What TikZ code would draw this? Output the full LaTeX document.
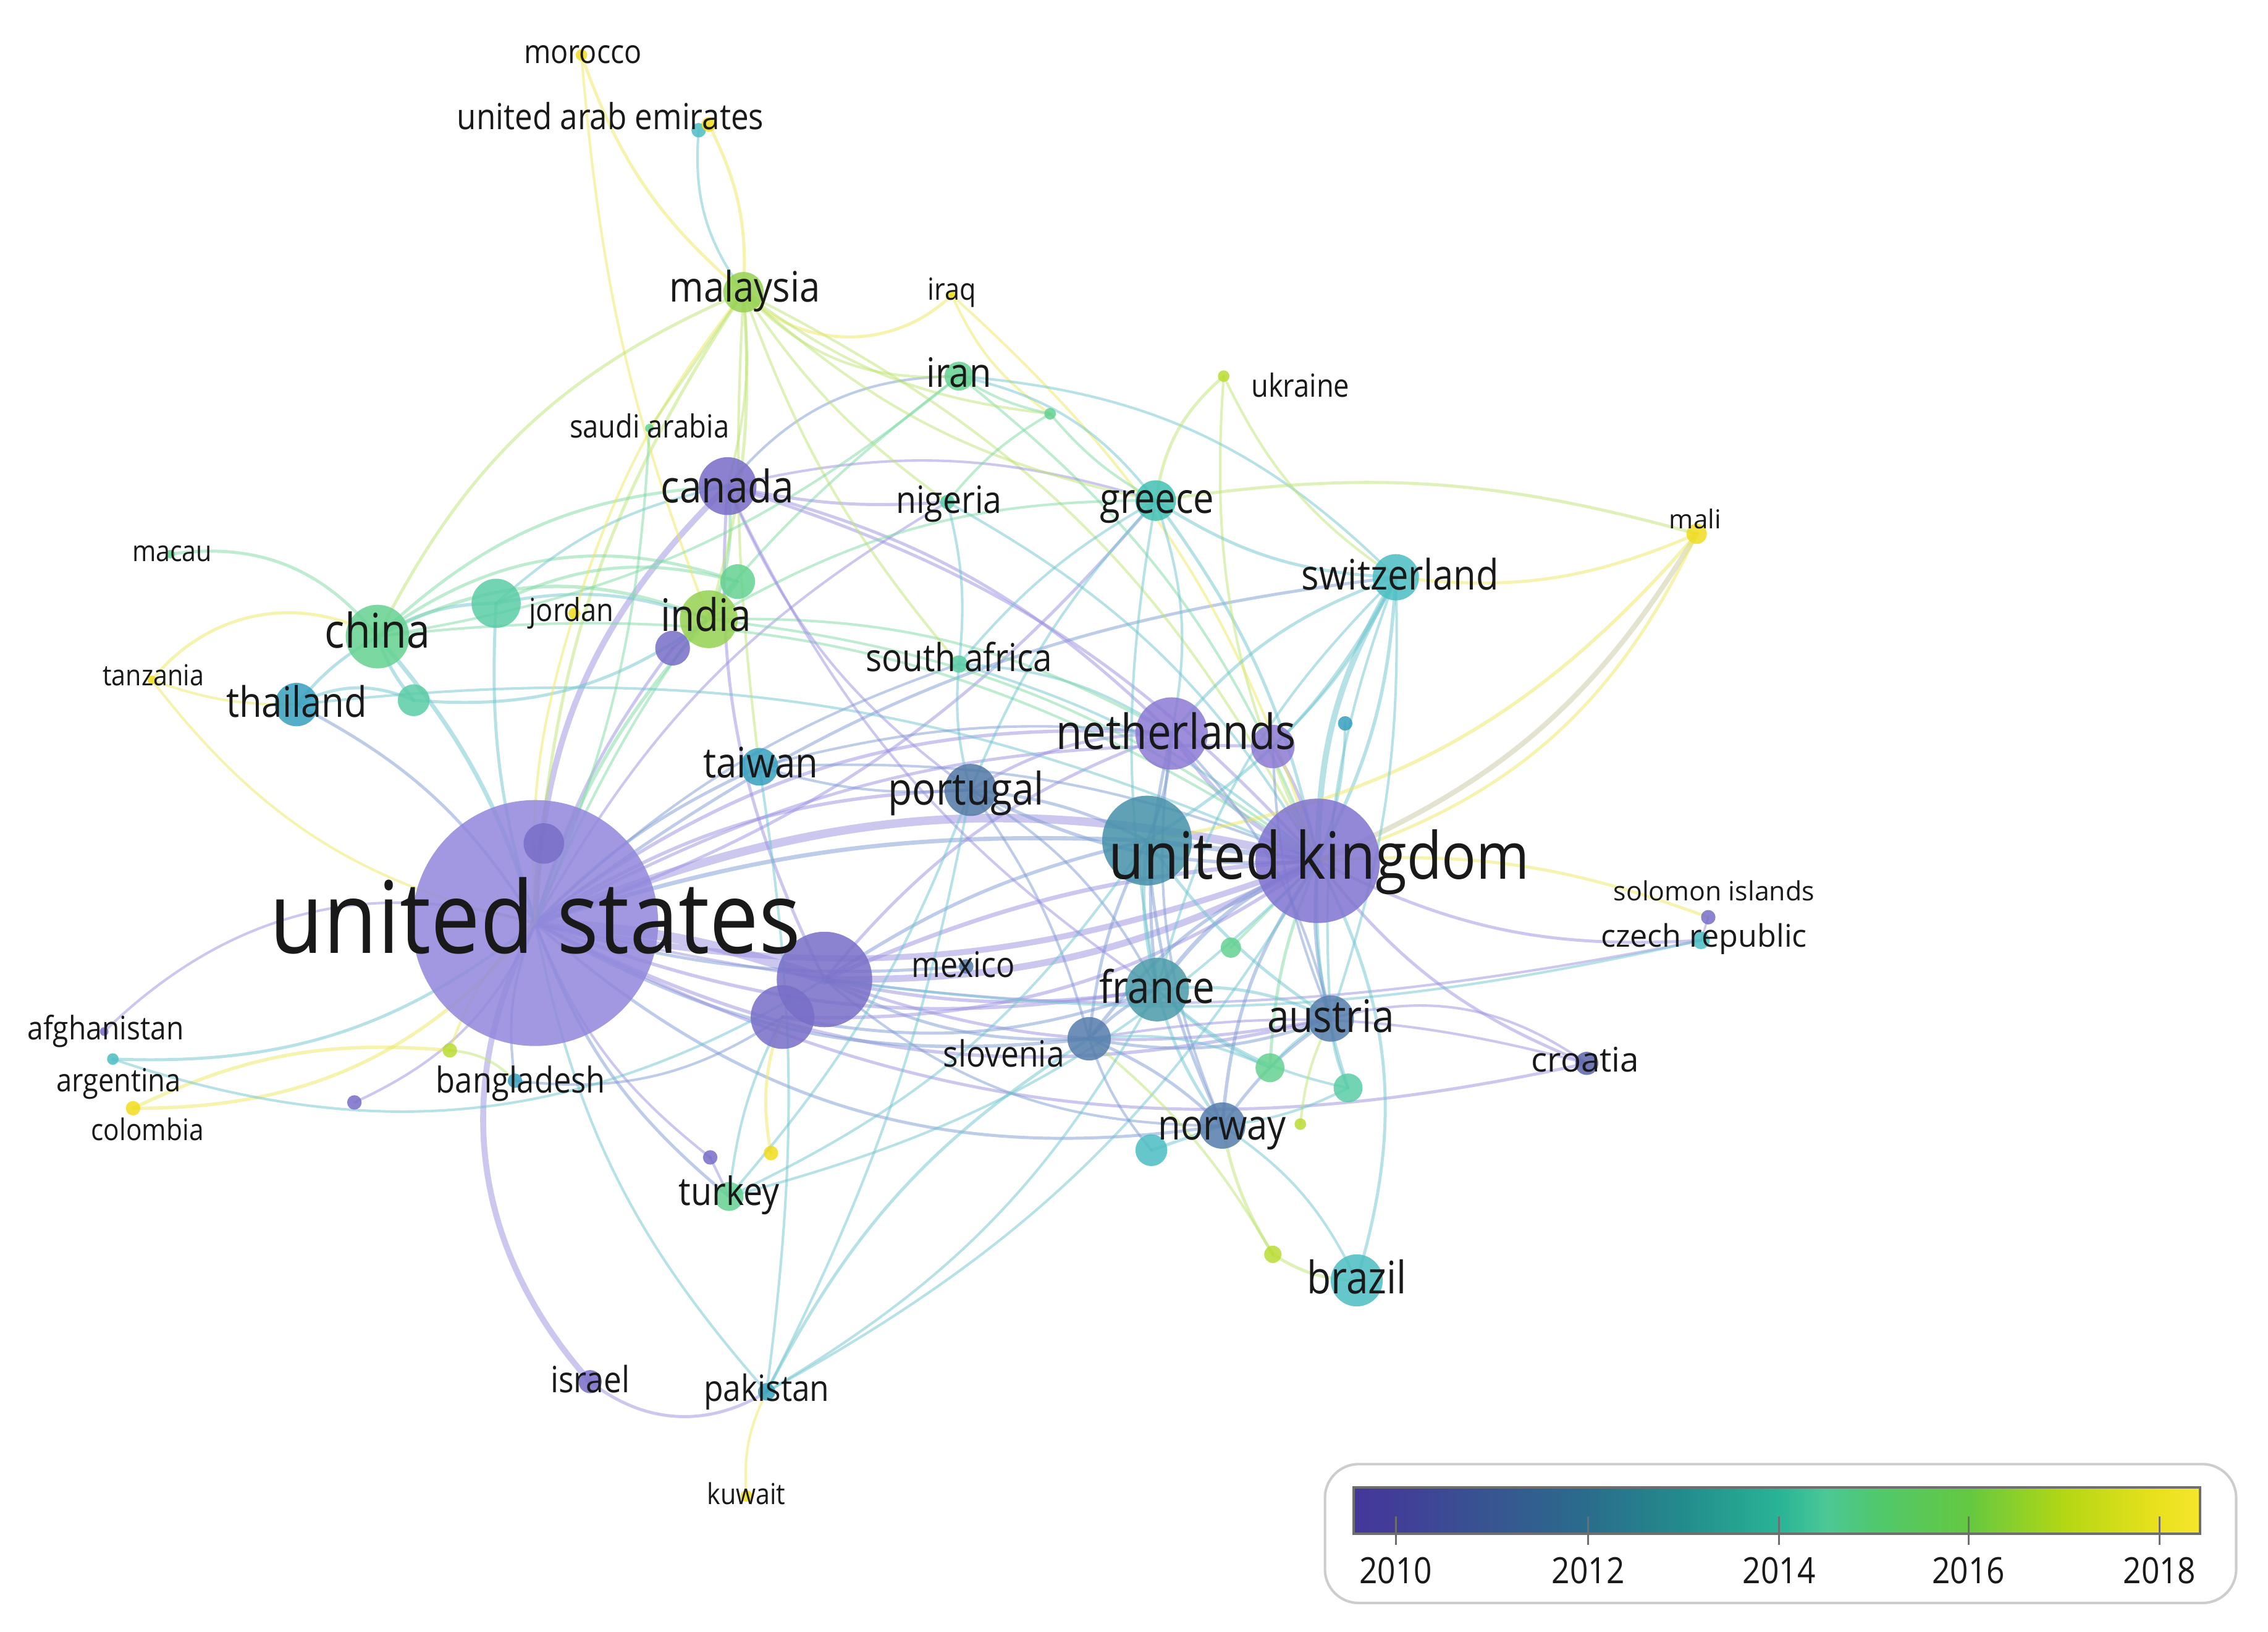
\documentclass[tikz,border=0pt]{standalone}
\usepackage{fontspec}
\newfontfamily\cond{Open Sans}[FakeStretch=0.88]
\newfontfamily\norm{Open Sans}
\newcommand\fsz[1]{\fontsize{\fpeval{#1*0.8536}pt}{\fpeval{#1*1.1}pt}\selectfont}
\pgfdeclarelayer{bg}
\pgfdeclarelayer{edges}
\pgfsetlayers{bg,edges,main}
\pgfdeclarehorizontalshading{viri}{100bp}{rgb(0bp)=(0.267,0.216,0.608); rgb(25bp)=(0.267,0.216,0.608); rgb(27.5bp)=(0.255,0.243,0.596); rgb(33.1bp)=(0.216,0.333,0.569); rgb(38.8bp)=(0.165,0.424,0.549); rgb(44.5bp)=(0.137,0.549,0.549); rgb(50.1bp)=(0.157,0.706,0.588); rgb(52.9bp)=(0.294,0.784,0.588); rgb(55.8bp)=(0.314,0.784,0.431); rgb(61.3bp)=(0.392,0.784,0.255); rgb(67bp)=(0.706,0.843,0.078); rgb(72.6bp)=(0.922,0.882,0.118); rgb(75bp)=(0.961,0.902,0.176); rgb(100bp)=(0.961,0.902,0.176)}
\definecolor{txt}{RGB}{25,25,25}
\definecolor{eP}{RGB}{155,145,225}
\definecolor{eB}{RGB}{125,155,210}
\definecolor{eT}{RGB}{110,198,208}
\definecolor{eG}{RGB}{125,218,165}
\definecolor{eL}{RGB}{190,228,115}
\definecolor{eY}{RGB}{238,232,95}
\definecolor{eM}{RGB}{200,200,160}
\definecolor{cUS}{RGB}{145,135,220}
\definecolor{cUK}{RGB}{128,116,208}
\definecolor{cCA}{RGB}{120,108,200}
\definecolor{cNL}{RGB}{140,122,212}
\definecolor{cPT}{RGB}{80,120,165}
\definecolor{cTL}{RGB}{70,145,170}
\definecolor{cFR}{RGB}{75,155,170}
\definecolor{cBL}{RGB}{85,125,172}
\definecolor{cHR}{RGB}{90,100,170}
\definecolor{cTQ}{RGB}{75,190,195}
\definecolor{cTH}{RGB}{55,160,190}
\definecolor{cGR}{RGB}{65,192,180}
\definecolor{cGN}{RGB}{100,210,145}
\definecolor{cYG}{RGB}{150,210,80}
\definecolor{cY}{RGB}{240,220,30}
\definecolor{cYL}{RGB}{185,220,50}
\definecolor{cPU}{RGB}{120,110,200}
\definecolor{cGT}{RGB}{90,205,165}
\definecolor{legb}{RGB}{205,205,205}
\definecolor{barb}{RGB}{110,110,110}
\tikzset{
  bub/.style={circle, inner sep=0pt, minimum size=#1*0.6mm, draw=none, fill opacity=0.85},
  lab/.style={font=\cond\fsz{#1}, inner sep=0pt, text=txt, anchor=base},
  labn/.style={font=\norm\fsz{#1}, inner sep=0pt, text=txt, anchor=base},
  edge/.style={draw opacity=0.5, line cap=round},
}
\newcommand\Bub[5]{\node[bub=#4, fill=#5] (#1) at (#2,#3) {};}
\newcommand\Lab[6][lab]{\node[#1=#5] (#2) at (#3,{#4+0.3*#5}) {#6};}
\begin{document}
\begin{tikzpicture}[x=0.3mm,y=-0.3mm]
\begin{pgfonlayer}{bg}
\fill[white] (0,0) rectangle (1568,1128);
\end{pgfonlayer}
\useasboundingbox (0,0) rectangle (1568,1128);
% nodes
\Bub{us}{370}{638}{85}{cUS}
\Bub{uk}{911}{595}{43}{cUK}
\Bub{ukt}{793}{581}{31}{cTL}
\Bub{us2}{570}{677}{33}{cPU}
\Bub{us3}{541}{703}{22}{cPU}
\Bub{usi}{376}{583}{14}{cPU}
\Bub{nl}{810}{507}{25}{cNL}
\Bub{nl2}{880}{516}{15}{cNL}
\Bub{pt}{671}{546}{18}{cPT}
\Bub{ca}{503}{336}{20}{cCA}
\Bub{gr}{799}{346}{14}{cGR}
\Bub{ch}{965}{399}{16}{cTQ}
\Bub{ir}{663}{260}{10}{cGN}
\Bub{my}{514}{202}{14}{cYG}
\Bub{cn}{261}{440}{22}{cGN}
\Bub{ind}{490}{428}{20}{cYG}
\Bub{jo}{343}{417}{17}{cGT}
\Bub{joy}{397}{424}{4}{cY}
\Bub{gn1}{510}{402}{12}{cGN}
\Bub{pu1}{465}{448}{12}{cPU}
\Bub{th}{205}{487}{15}{cTH}
\Bub{gt1}{286}{484}{11}{cGT}
\Bub{tw}{525}{530}{13}{cTH}
\Bub{za}{663}{459}{6}{cGT}
\Bub{ng}{655}{347}{5}{cGT}
\Bub{mx}{668}{668}{5}{cBL}
\Bub{fr}{800}{684}{22}{cFR}
\Bub{aus}{920}{704}{16}{cBL}
\Bub{si}{753}{718}{15}{cBL}
\Bub{nor}{845}{778}{16}{cBL}
\Bub{t1}{796}{795}{11}{cTQ}
\Bub{g1}{878}{738}{10}{cGN}
\Bub{g2}{932}{752}{10}{cGT}
\Bub{g3}{851}{655}{7}{cGN}
\Bub{y1}{899}{777}{4}{cYL}
\Bub{y2}{880}{867}{6}{cYL}
\Bub{br}{938}{885}{18}{cTQ}
\Bub{hr}{1097}{735}{8}{cHR}
\Bub{cz}{1176}{650}{6}{cTQ}
\Bub{sb}{1181}{634}{5}{cPU}
\Bub{ml}{1173}{369}{7}{cY}
\Bub{ua}{846}{260}{4}{cYL}
\Bub{g4}{726}{286}{4}{cGN}
\Bub{t2}{930}{500}{5}{cTH}
\Bub{sa}{449}{296}{3}{cGN}
\Bub{iq}{658}{204}{3}{cY}
\Bub{ae1}{483}{90}{5}{cTQ}
\Bub{ae2}{490}{86}{5}{cY}
\Bub{mor}{402}{38}{4}{cY}
\Bub{mac}{118}{383}{3}{cGN}
\Bub{tz}{105}{470}{3}{cY}
\Bub{af}{72}{713}{3}{cPU}
\Bub{ar}{78}{732}{4}{cTQ}
\Bub{co}{92}{766}{5}{cY}
\Bub{p1}{245}{762}{5}{cPU}
\Bub{y3}{311}{726}{5}{cYL}
\Bub{bd}{356}{747}{5}{cTH}
\Bub{p2}{491}{800}{5}{cPU}
\Bub{y4}{533}{797}{5}{cY}
\Bub{tr}{504}{827}{10}{cGN}
\Bub{il}{408}{955}{8}{cPU}
\Bub{pk}{530}{962}{6}{cTH}
\Bub{kw}{516}{1034}{4}{cY}
% edges
\begin{pgfonlayer}{edges}
\foreach \a/\b/\c/\w/\k in {
 us/uk/eP/5pt/18, us/uk/eP/3.5pt/-16, us/us2/eP/6pt/8, us/ca/eP/3.5pt/22, us/il/eP/3.5pt/-35,
 us/nl/eP/2pt/20, us/nl2/eP/1.8pt/15, us/pt/eP/2pt/15, us/fr/eP/2pt/-15, us/aus/eP/2pt/-20,
 us/si/eB/2pt/-18, us/nor/eB/1.8pt/-25, us/ukt/eB/2.5pt/10, us/hr/eP/1.8pt/-20, us/cz/eP/1.5pt/-12,
 us/pu1/eP/1.8pt/10, us/af/eP/1.5pt/-30, us/ar/eT/1.8pt/20, us/co/eY/2pt/25, us/p1/eP/1.5pt/20,
 us/gr/eP/1.8pt/-15, us/ch/eB/1.8pt/15, us/ng/eP/1.5pt/15, us/za/eB/1.5pt/12, us/tw/eB/1.8pt/10,
 us/th/eB/1.8pt/-15, us/cn/eT/2.5pt/-12, us/ind/eG/2pt/12, us/jo/eT/1.8pt/10, us/my/eL/1.8pt/15,
 us/ir/eG/1.5pt/15, us/tr/eB/1.8pt/-15, us/pk/eT/1.5pt/-15, us/bd/eB/1.5pt/-15,
 us/y3/eY/1.5pt/-15, us/tz/eY/1.5pt/20, us/mx/eB/1.8pt/-10,
 us2/uk/eP/4pt/-14, us2/uk/eP/2.5pt/10, us2/fr/eP/2pt/-10, us2/ukt/eB/2pt/10, us2/aus/eP/1.8pt/-15,
 us2/nl/eP/1.8pt/15, us2/si/eB/1.8pt/-15, us2/ca/eP/1.8pt/15, us2/nor/eB/1.5pt/-20,
 us3/uk/eP/2pt/-18, us3/y4/eY/1.8pt/-15, us3/tr/eT/1.5pt/-10, us3/bd/eB/1.5pt/20, us3/fr/eB/1.8pt/-15,
 uk/nl/eP/2.5pt/15, uk/nl2/eP/2pt/-10, uk/pt/eB/2pt/15, uk/fr/eB/2.5pt/-15, uk/aus/eB/2pt/-10,
 uk/nor/eB/2pt/-15, uk/si/eB/2pt/-15, uk/ukt/eB/3pt/0, uk/g1/eG/1.8pt/-10, uk/g2/eT/1.8pt/-10,
 uk/g3/eG/1.5pt/0, uk/t2/eT/1.5pt/-10, uk/br/eT/1.8pt/22, uk/ch/eT/3.5pt/15, uk/ch/eT/2pt/-12,
 uk/ml/eM/3pt/-18, uk/ml/eY/1.8pt/-24, uk/sb/eY/1.8pt/12, uk/cz/eP/1.8pt/-15, uk/hr/eP/1.8pt/-15,
 uk/gr/eT/1.8pt/-12, uk/ca/eP/1.8pt/-15, uk/cn/eG/1.5pt/-20, uk/ind/eG/1.5pt/-15, uk/my/eL/1.5pt/-18,
 uk/ir/eG/1.5pt/-15, uk/ng/eT/1.5pt/-15, uk/za/eT/1.5pt/-12, uk/tw/eB/1.5pt/-12, uk/th/eT/1.5pt/-15,
 uk/ua/eL/1.5pt/15, uk/iq/eY/1.5pt/-15, uk/tr/eT/1.5pt/15, uk/pk/eT/1.5pt/15,
 ukt/fr/eT/2pt/-10, ukt/nl/eB/1.8pt/-10, ukt/aus/eT/1.8pt/-10, ukt/si/eB/1.8pt/-10, ukt/nor/eB/1.8pt/-10,
 ukt/pt/eB/1.8pt/-10, ukt/ch/eT/1.8pt/-15, ukt/ml/eY/2pt/-20,
 nl/pt/eP/1.8pt/-15, nl/fr/eB/1.8pt/-10, nl/ca/eP/1.8pt/-15, nl/ch/eT/1.8pt/15, nl/gr/eT/1.5pt/-15,
 nl/aus/eB/1.5pt/15, nl/nor/eB/1.5pt/-15, nl/za/eT/1.5pt/-15, nl2/ch/eT/1.5pt/-10, nl2/aus/eB/1.5pt/-10,
 fr/aus/eT/1.8pt/15, fr/nor/eT/1.8pt/-10, fr/si/eB/1.8pt/-10, fr/g1/eT/1.5pt/-10, fr/g2/eT/1.5pt/-15,
 fr/pt/eB/1.5pt/-15, fr/ch/eT/1.5pt/15,
 aus/nor/eB/1.8pt/-10, aus/g1/eT/1.5pt/-10, aus/g2/eT/1.5pt/-10, aus/si/eB/1.8pt/15, aus/y1/eL/1.5pt/-10,
 aus/hr/eP/1.5pt/25, aus/ch/eT/1.5pt/12,
 nor/t1/eT/1.8pt/0, nor/y2/eL/1.8pt/-10, nor/si/eB/1.8pt/-10, nor/br/eT/1.5pt/15, nor/g2/eT/1.5pt/-10,
 y2/br/eL/1.8pt/-15, y2/si/eL/1.5pt/-10,
 si/t1/eB/1.5pt/-10, si/pk/eT/1.8pt/-15, si/hr/eP/1.5pt/12, si/pt/eB/1.5pt/-10, si/g1/eT/1.5pt/15,
 pk/il/eP/1.8pt/35, pk/kw/eY/1.5pt/-15, pk/tw/eT/1.5pt/-8, pk/fr/eT/1.5pt/-15, pk/pt/eT/1.5pt/-8,
 tr/pt/eT/1.5pt/-10, tr/ukt/eT/1.5pt/-15, tr/p2/eP/1.5pt/0, p2/us/eP/1.5pt/15,
 bd/y3/eL/1.5pt/-20, co/y3/eY/2pt/15, ar/us2/eT/1.5pt/-25,
 cn/jo/eT/2pt/15, cn/ind/eG/2pt/25, cn/gn1/eG/1.8pt/28, cn/ca/eG/1.8pt/20, cn/th/eT/1.8pt/-10,
 cn/gt1/eT/2pt/-10, cn/mac/eG/1.8pt/-30, tz/cn/eY/1.8pt/40, tz/th/eY/1.5pt/-10, th/gt1/eT/1.8pt/25,
 gt1/ind/eT/1.8pt/-20, jo/ind/eT/1.8pt/15, jo/gn1/eG/1.8pt/20, jo/ca/eT/1.5pt/15,
 joy/us/eY/1.5pt/-10, joy/my/eY/1.5pt/10,
 ind/ca/eG/1.8pt/-15, ind/pu1/eP/1.5pt/0, ind/gn1/eG/1.8pt/0, ind/my/eL/1.8pt/-10, ind/gr/eG/1.5pt/15,
 ind/nl/eG/1.5pt/15,
 ca/ng/eP/1.8pt/-8, ca/gr/eP/1.5pt/15, ca/pt/eP/1.5pt/-15, ca/fr/eP/1.5pt/-15, ca/my/eL/1.5pt/-10,
 ca/ir/eB/1.5pt/25,
 my/ae2/eY/1.8pt/-15, my/ae1/eT/1.5pt/20, mor/my/eY/1.8pt/-15, mor/ind/eY/1.5pt/-8,
 my/iq/eY/1.8pt/-45, my/cn/eL/1.8pt/-20, my/ir/eL/1.5pt/-25, my/ng/eL/1.5pt/-10, my/gr/eL/1.5pt/-15,
 my/sa/eL/1.5pt/0, my/tw/eL/1.5pt/-5, my/za/eL/1.5pt/-10, my/g4/eL/1.5pt/-15,
 iq/g4/eY/1.5pt/-15, ir/gr/eT/1.5pt/20, ir/ch/eT/1.5pt/20, ir/g4/eG/1.5pt/-10, ir/cn/eG/1.5pt/15,
 ua/gr/eL/1.8pt/-20, ua/ch/eL/1.5pt/-15, g4/gr/eG/1.5pt/-10, g4/ng/eG/1.5pt/-10,
 gr/ch/eT/1.8pt/-15, gr/pt/eT/1.5pt/-10, gr/fr/eT/1.5pt/-10, gr/za/eT/1.5pt/-10, gr/ml/eL/1.8pt/12,
 ch/ml/eY/1.8pt/-15, ch/aus/eT/1.5pt/10,
 za/ng/eT/1.5pt/-10, za/pt/eT/1.5pt/-10, sa/us/eG/1.5pt/10, tw/pt/eB/1.5pt/-10, tw/nl/eB/1.5pt/10,
 sb/cz/eP/1.2pt/0, cz/us2/eT/1.5pt/10}
 {\draw[edge, draw=\c, line width=\w] (\a.center) to[bend left=\k] (\b.center);}
\end{pgfonlayer}
% labels
\Lab{lmor}{403}{37}{22.7}{morocco}
\Lab{lae}{422}{82}{24.8}{united arab emirates}
\Lab{lmy}{515}{200}{29}{malaysia}
\Lab{liq}{658}{201}{21}{iraq}
\Lab{lir}{663}{259}{28}{iran}
\Lab{lua}{899}{268}{22}{ukraine}
\Lab{lsa}{449}{296}{22}{saudi arabia}
\Lab{lca}{503}{338}{31}{canada}
\Lab{lng}{656}{347}{26}{nigeria}
\Lab{lgr}{800}{346}{29}{greece}
\Lab[labn]{lml}{1172}{360}{18}{mali}
\Lab{lch}{968}{399}{29}{switzerland}
\Lab{lmac}{119}{382}{20}{macau}
\Lab{ljo}{395}{423}{22}{jordan}
\Lab{lcn}{261}{438}{33}{china}
\Lab{lind}{488}{427}{31}{india}
\Lab{ltz}{106}{468}{20}{tanzania}
\Lab{lth}{205}{487}{29}{thailand}
\Lab{lza}{663}{456}{26.6}{south africa}
\Lab{lnl}{813}{508}{33.5}{netherlands}
\Lab{ltw}{526}{529}{29}{taiwan}
\Lab{lpt}{668}{547}{31}{portugal}
\Lab{luk}{912}{594}{45}{united kingdom}
\Lab{lus}{370}{638}{69}{united states}
\Lab[labn]{lsb}{1185}{617}{18.3}{solomon islands}
\Lab[labn]{lcz}{1178}{648}{21.5}{czech republic}
\Lab{lmx}{666}{668}{24.4}{mexico}
\Lab{lfr}{800}{684}{31}{france}
\Lab{lat}{920}{704}{31}{austria}
\Lab{laf}{73}{712}{22.4}{afghanistan}
\Lab{lsi}{694}{730}{25}{slovenia}
\Lab[labn]{lhr}{1096}{734}{23.4}{croatia}
\Lab{lar}{82}{748}{22}{argentina}
\Lab{lbd}{360}{748}{24.6}{bangladesh}
\Lab{lno}{845}{779}{29}{norway}
\Lab{lco}{102}{782}{20.6}{colombia}
\Lab{ltr}{504}{825}{27}{turkey}
\Lab{lbr}{938}{885}{31}{brazil}
\Lab{lil}{408}{955}{25}{israel}
\Lab{lpk}{530}{961}{25}{pakistan}
\Lab{lkw}{516}{1034}{20}{kuwait}
% legend
\node[draw=legb, line width=1.5pt, rounded corners=7mm, minimum width=630*0.3mm, minimum height=96*0.3mm, inner sep=0pt] (legend) at (1231,1060) {};
\node[shade, shading=viri, draw=barb, line width=1.5pt, minimum width=585*0.3mm, minimum height=32*0.3mm, inner sep=0pt] (bar) at (1228.5,1044) {};
\foreach \x in {965,1098,1230,1361,1493} \draw[barb, line width=1pt] (\x,1048) -- (\x,1068);
\Lab{y10}{965}{1087}{25}{2010}
\Lab{y12}{1098}{1087}{25}{2012}
\Lab{y14}{1230}{1087}{25}{2014}
\Lab{y16}{1361}{1087}{25}{2016}
\Lab{y18}{1493}{1087}{25}{2018}
\end{tikzpicture}
\end{document}
